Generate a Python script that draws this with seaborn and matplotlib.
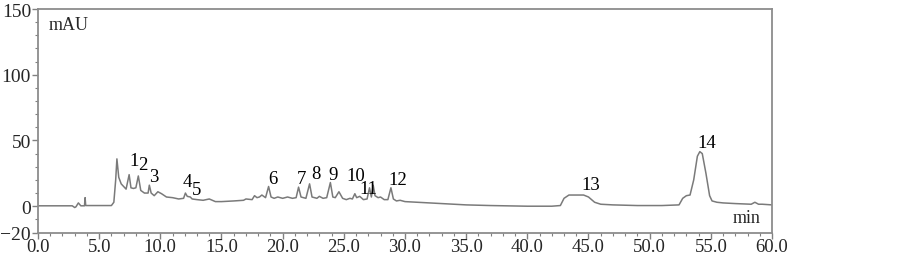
import numpy as np
import pandas as pd
import matplotlib
matplotlib.use("Agg")
import matplotlib.pyplot as plt
from matplotlib.ticker import MultipleLocator, FormatStrFormatter
import seaborn as sns

# chromatogram trace (time in min, absorbance in mAU)
time_min = [0, 2.8, 3.0, 3.1, 3.3, 3.5, 3.8, 3.85, 3.9, 6.0, 6.2, 6.35, 6.45, 6.6, 6.8,
            7.0, 7.2, 7.45, 7.6, 7.8, 8.0, 8.2, 8.4, 8.7, 9.0, 9.1, 9.25, 9.5, 9.8, 10.1,
            10.5, 11.0, 11.5, 11.9, 12.05, 12.2, 12.45, 12.6, 13.0, 13.5, 14.0, 14.5, 15.0,
            16.0, 16.8, 17.0, 17.5, 17.7, 17.9, 18.1, 18.3, 18.6, 18.85, 19.05, 19.3, 19.6,
            20.0, 20.4, 20.8, 21.1, 21.3, 21.5, 21.9, 22.2, 22.4, 22.8, 23.0, 23.3, 23.6,
            23.9, 24.1, 24.3, 24.6, 24.9, 25.2, 25.5, 25.7, 25.9, 26.05, 26.3, 26.6, 26.9,
            27.1, 27.25, 27.4, 27.55, 27.8, 28.0, 28.3, 28.6, 28.85, 29.05, 29.3, 29.6,
            30.0, 31, 32, 33, 34, 35, 37, 40, 42, 42.7, 43.0, 43.4, 44.0, 44.6, 45.0, 45.5,
            46.0, 47, 49, 51, 52.4, 52.7, 53.0, 53.3, 53.6, 53.9, 54.1, 54.3, 54.6, 54.9,
            55.1, 55.5, 56, 57, 58.3, 58.6, 58.9, 59.2, 60]
mau = [0.3, 0.3, -1.0, -0.5, 2.5, 0.3, 0.3, 6.5, 0.5, 0.5, 3, 20, 36, 22, 17,
       15, 13, 24, 14, 13.5, 14, 23, 12, 10, 10, 16, 10, 8, 11, 9.5,
       7, 6.5, 5.5, 6, 10, 7.5, 7, 5.5, 5, 4.5, 5.5, 3.5, 3.5,
       4, 4.5, 5.5, 5, 8, 6.5, 7, 8.5, 6.5, 15, 7, 6, 7,
       6, 7, 6, 6.5, 14.5, 7, 6, 17, 7, 6, 7.5, 6, 6.5,
       18, 7, 6.5, 11, 6, 5, 6, 5.5, 9.5, 6.5, 7.5, 5, 5.5,
       14, 7, 16, 8, 6.5, 7, 5, 5, 14, 5.5, 4, 4.5,
       3.5, 3, 2.5, 2, 1.5, 1, 0.5, 0, 0, 0.5, 6, 8.5, 8.5, 8.5, 7, 3,
       1.5, 1, 0.5, 0.5, 1, 6, 8, 8.5, 20, 38, 41.5, 40, 25, 8,
       4, 3, 2.5, 2, 1.5, 3, 1.5, 1.5, 1]

peak_labels = ["1", "2", "3", "4", "5", "6", "7", "8", "9", "10", "11", "12", "13", "14"]
peak_label_t = [7.85, 8.6, 9.5, 12.2, 13.0, 19.2, 21.5, 22.7, 24.1, 26.0, 27.0, 29.4, 45.2, 54.7]
peak_label_y = [34.8, 31.8, 22.7, 19.0, 12.9, 21.2, 21.2, 25.0, 24.2, 23.5, 13.8, 20.5, 16.7, 48.5]

df = pd.DataFrame({"time": time_min, "mAU": mau})

sns.set_theme(style="ticks")
plt.rcParams["font.family"] = ["Liberation Serif", "DejaVu Serif"]

fig = plt.figure(figsize=(9.03, 2.55), dpi=100)
ax = fig.add_axes([38 / 903, 21.5 / 255, (772 - 38) / 903, (245 - 21.5) / 255])

sns.lineplot(data=df, x="time", y="mAU", ax=ax, color="#7a7a7a", linewidth=1.1)

for lab, t, y in zip(peak_labels, peak_label_t, peak_label_y):
    ax.text(t, y, lab, ha="center", va="center", fontsize=13.5, color="black")

ax.set_xlim(0, 60)
ax.set_ylim(-20, 150)
ax.xaxis.set_major_locator(MultipleLocator(5))
ax.xaxis.set_minor_locator(MultipleLocator(1))
ax.xaxis.set_major_formatter(FormatStrFormatter("%.1f"))
ax.set_yticks([-20, 0, 50, 100, 150])
ax.set_yticklabels(["\u221220", "0", "50", "100", "150"])
ax.yaxis.set_minor_locator(MultipleLocator(10))
ax.tick_params(axis="both", which="major", length=4, width=1, color="#808080")
ax.tick_params(axis="y", which="major", labelsize=14, pad=1)
ax.tick_params(axis="x", which="major", labelsize=13.5, pad=0)
ax.tick_params(axis="both", which="minor", length=2, width=0.8, color="#808080")
ax.set_xlabel("")
ax.set_ylabel("")

for s in ax.spines.values():
    s.set_color("#8c8c8c")
    s.set_linewidth(1.3)

ax.text(0.014, 0.93, "mAU", transform=ax.transAxes, fontsize=13, ha="left", va="center")
ax.text(0.985, 0.065, "min", transform=ax.transAxes, fontsize=13, ha="right", va="center")

fig.savefig("out.png", dpi=100)
